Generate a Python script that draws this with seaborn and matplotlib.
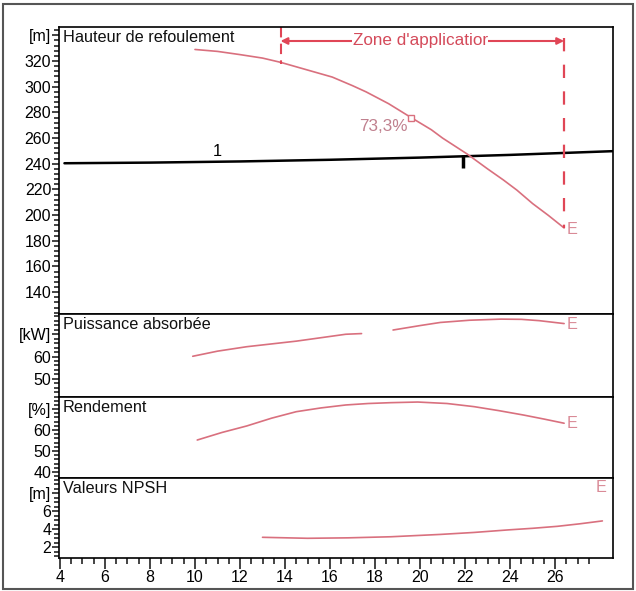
import numpy as np
import pandas as pd
import matplotlib
matplotlib.use("Agg")
import matplotlib.pyplot as plt
import seaborn as sns
from matplotlib.ticker import MultipleLocator, FixedLocator
from matplotlib.patches import Rectangle

# ---------------- data ----------------
q_head = [10.0, 11.0, 12.0, 13.0, 13.8, 15.0, 16.1, 17.0, 17.6, 18.6, 19.6, 20.5, 21.0, 22.1, 23.0, 23.7, 24.3, 25.0, 25.7, 26.4]
h_head = [329.0, 327.5, 325.0, 322.3, 319.0, 313.0, 307.5, 300.8, 296.0, 286.8, 276.0, 266.5, 260.0, 247.5, 236.0, 227.4, 219.5, 209.0, 199.8, 190.0]

q_sys = [4.2, 8.0, 12.0, 16.0, 20.0, 24.0, 28.55]
h_sys = [240.4, 240.9, 241.8, 243.1, 244.8, 246.9, 249.8]

q_pow_a = [9.9, 11.0, 12.3, 14.5, 16.7, 17.4]
p_pow_a = [60.1, 62.4, 64.4, 66.9, 70.0, 70.3]
q_pow_b = [18.8, 20.0, 20.9, 22.2, 23.6, 24.5, 25.3, 26.4]
p_pow_b = [71.9, 73.9, 75.3, 76.3, 76.8, 76.7, 76.1, 74.8]

q_eff = [10.1, 11.2, 12.3, 13.4, 14.5, 15.6, 16.7, 17.7, 18.7, 19.9, 21.2, 22.4, 23.5, 24.6, 25.5, 26.4]
eff = [55.2, 58.8, 61.9, 65.6, 68.7, 70.5, 71.9, 72.6, 73.0, 73.3, 72.6, 71.1, 69.2, 67.1, 65.2, 63.2]

q_npsh = [13.0, 15.0, 16.8, 18.7, 20.9, 22.4, 23.9, 25.0, 26.1, 27.1, 28.1]
npsh = [3.08, 2.97, 3.02, 3.14, 3.40, 3.62, 3.90, 4.08, 4.30, 4.58, 4.90]

# operating / annotation values
zone_start, zone_end = 13.8, 26.4
bep_q, bep_h, bep_label = 19.6, 276.0, "73,3%"
op_q, op_h_top, op_h_bot = 21.9, 246.7, 236.6

panel_titles = ["Hauteur de refoulement", "Puissance absorbée", "Rendement", "Valeurs NPSH"]
x_ticks = [4, 6, 8, 10, 12, 14, 16, 18, 20, 22, 24, 26]

yticks_head = [140, 160, 180, 200, 220, 240, 260, 280, 300, 320, 340]
ylabels_head = ["140", "160", "180", "200", "220", "240", "260", "280", "300", "320", "[m]"]
yticks_pow = [50, 60, 70]
ylabels_pow = ["50", "60", "[kW]"]
yticks_eff = [40, 50, 60, 70]
ylabels_eff = ["40", "50", "60", "[%]"]
yticks_npsh = [2, 4, 6, 8]
ylabels_npsh = ["2", "4", "6", "[m]"]

# ---------------- style ----------------
sns.set_theme(style="ticks")
plt.rcParams["font.family"] = ["Liberation Sans", "DejaVu Sans"]
plt.rcParams["font.size"] = 11.5

CURVE = "#d9707e"
RED = "#e04656"
ETXT = "#d98a96"
TICK_FS = 11.5
TXT_FS = 11.7

fig = plt.figure(figsize=(6.36, 5.91), dpi=100)
L, W = 59.5 / 636, 553 / 636
rows = [(27, 314), (314, 397), (397, 478), (478, 558)]
axes = []
for top, bot in rows:
    ax = fig.add_axes([L, 1 - bot / 591, W, (bot - top) / 591])
    axes.append(ax)
ax_h, ax_p, ax_e, ax_n = axes

xlim = (3.98, 28.55)
ylims = [(123.0, 346.5), (41.8, 79.1), (37.1, 75.7), (0.78, 9.67)]
yt = [(yticks_head, ylabels_head, 4), (yticks_pow, ylabels_pow, 2),
      (yticks_eff, ylabels_eff, 2), (yticks_npsh, ylabels_npsh, 0.5)]

# ---------------- curves ----------------
df_head = pd.DataFrame({"Q": q_head, "H": h_head})
df_sys = pd.DataFrame({"Q": q_sys, "H": h_sys})
df_pow = pd.DataFrame({"Q": q_pow_a + q_pow_b, "P": p_pow_a + p_pow_b,
                       "seg": ["a"] * len(q_pow_a) + ["b"] * len(q_pow_b)})
df_eff = pd.DataFrame({"Q": q_eff, "R": eff})
df_npsh = pd.DataFrame({"Q": q_npsh, "N": npsh})

sns.lineplot(data=df_sys, x="Q", y="H", ax=ax_h, color="black", lw=1.8, sort=False)
sns.lineplot(data=df_head, x="Q", y="H", ax=ax_h, color=CURVE, lw=1.2, sort=False)
sns.lineplot(data=df_pow, x="Q", y="P", units="seg", estimator=None, ax=ax_p,
             color=CURVE, lw=1.2, sort=False)
sns.lineplot(data=df_eff, x="Q", y="R", ax=ax_e, color=CURVE, lw=1.2, sort=False)
sns.lineplot(data=df_npsh, x="Q", y="N", ax=ax_n, color=CURVE, lw=1.2, sort=False)

for i, ax in enumerate(axes):
    ax.set_xlabel("")
    ax.set_ylabel("")
    if ax.get_legend():
        ax.get_legend().remove()
    ax.set_xlim(*xlim)
    ax.set_ylim(*ylims[i])
    ticks, labels, minor = yt[i]
    ax.set_yticks(ticks)
    ax.set_yticklabels(labels)
    ax.yaxis.set_minor_locator(MultipleLocator(minor))
    if i == 3:
        ax.set_xticks(x_ticks)
        ax.set_xticklabels([str(v) for v in x_ticks])
        ax.xaxis.set_minor_locator(FixedLocator(np.arange(4, 27.6, 0.5)))
    else:
        ax.set_xticks([])
        ax.xaxis.set_minor_locator(FixedLocator([]))
    ax.tick_params(which="minor", length=3.5, width=1.1, color="#111111",
                   bottom=(i == 3), left=True, top=False, right=False)
    ax.tick_params(which="major", length=5, width=1.1, color="#111111",
                   labelsize=TICK_FS, pad=1, labelcolor="black",
                   bottom=(i == 3), labelbottom=(i == 3), left=True, top=False, right=False)
    for s in ax.spines.values():
        s.set_visible(True)
        s.set_color("black")
        s.set_linewidth(1.2)
    ax.text(0.006, 0.988 if i == 0 else 0.965, panel_titles[i], transform=ax.transAxes,
            ha="left", va="top", fontsize=TXT_FS, color="#111111")

ax_n.tick_params(axis="x", which="major", length=8)
ax_n.tick_params(axis="x", which="minor", length=4.5)

# ---------------- annotations (top panel) ----------------
ax_h.text(11.0, 244.0, "1", ha="center", va="bottom", fontsize=TXT_FS, color="black")
ax_h.plot([op_q, op_q], [op_h_top, op_h_bot], color="black", lw=2.5, solid_capstyle="butt")

ax_h.plot([zone_start, zone_start], [ylims[0][1], 317.5], color=RED, lw=1.5,
          linestyle=(0, (5, 3)))
ax_h.plot([zone_end, zone_end], [338.0, h_head[-1]], color=RED, lw=1.6,
          linestyle=(0, (6, 6)))
ax_h.annotate("", xy=(zone_start, 335.6), xytext=(zone_end, 335.6),
              arrowprops=dict(arrowstyle="<|-|>", color=RED, lw=1.5,
                              mutation_scale=10, shrinkA=0, shrinkB=0))
ax_h.text(20.0, 335.6, "Zone d'applicatior", ha="center", va="center", fontsize=12.3,
          color="#d44a5a", bbox=dict(facecolor="white", edgecolor="none", pad=0.5))

ax_h.plot([bep_q], [bep_h], marker="s", markersize=5, markerfacecolor="white",
          markeredgecolor=CURVE, markeredgewidth=1)
ax_h.text(18.35, 269.3, bep_label, ha="center", va="center", fontsize=12.3, color="#c0808e")

ax_h.text(26.5, 189.0, "E", ha="left", va="center", fontsize=TXT_FS, color=ETXT)
ax_p.text(26.5, 74.6, "E", ha="left", va="center", fontsize=TXT_FS, color=ETXT)
ax_e.text(26.5, 63.2, "E", ha="left", va="center", fontsize=TXT_FS, color=ETXT)
ax_n.text(28.05, 8.6, "E", ha="center", va="center", fontsize=TXT_FS, color=ETXT)

# scanned page frame
fig.patches.append(Rectangle((0.004, 0.004), 0.992, 0.99, transform=fig.transFigure,
                             fill=False, edgecolor="#555555", lw=1.5))

fig.savefig("out.png", dpi=100)
